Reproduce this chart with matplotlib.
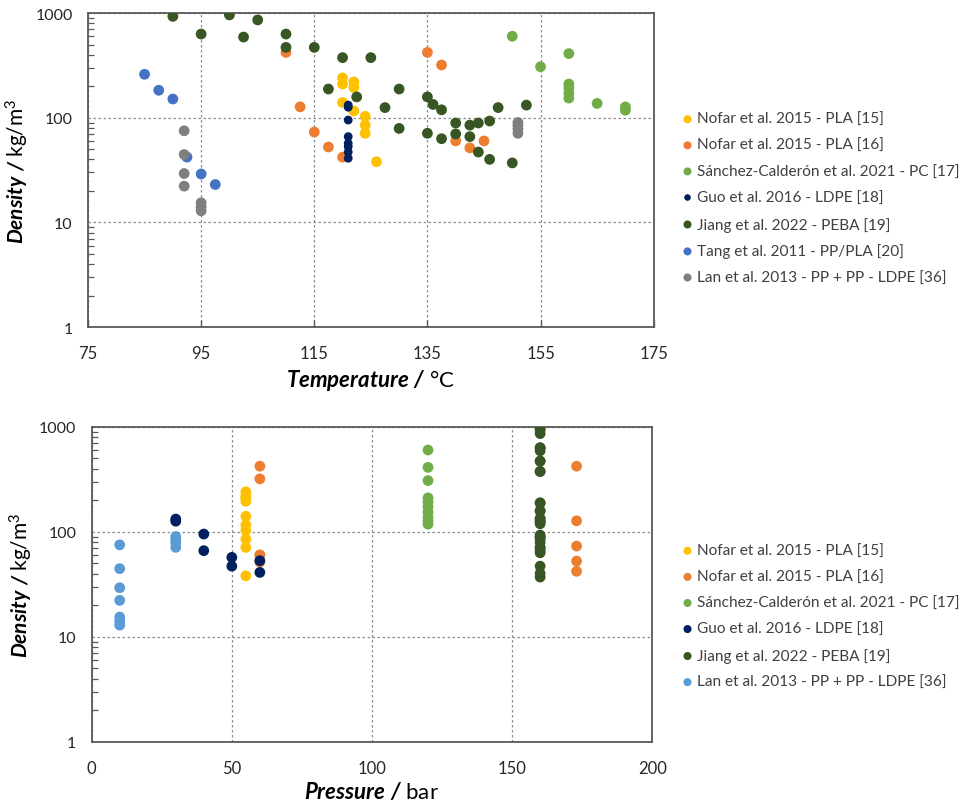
import matplotlib

matplotlib.use("Agg")
import matplotlib.pyplot as plt
from matplotlib.ticker import FixedLocator, LogLocator, NullFormatter, FuncFormatter

# ---- data ----
NOFAR15_T = [120, 120, 122, 122, 120, 122, 124, 124, 124, 126]
NOFAR15_P = [55, 55, 55, 55, 55, 55, 55, 55, 55, 55]
NOFAR15_D = [240, 210, 220, 195, 140, 116, 103, 85, 71, 38]

NOFAR16_T = [110, 112.5, 115, 117.5, 120, 135, 137.5, 140, 142.5, 145]
NOFAR16_P = [173, 173, 173, 173, 173, 60, 60, 60, 60, 60]
NOFAR16_D = [421, 127, 73, 52.5, 42, 421, 319, 60, 51.5, 60]

SANCHEZ_T = [150, 155, 160, 160, 160, 160, 160, 165, 170, 170]
SANCHEZ_P = [120, 120, 120, 120, 120, 120, 120, 120, 120, 120]
SANCHEZ_D = [600, 307, 410, 210, 192, 172, 154, 137, 127, 118]

GUO_T = [121, 121, 121, 121, 121, 121, 121, 121]
GUO_P = [30, 30, 40, 40, 50, 50, 60, 60]
GUO_D = [132, 126, 95, 66, 57, 47, 53, 41]

JIANG_T = [90, 95, 100, 102.5, 105, 110, 110, 115, 120, 125, 117.5, 122.5, 130, 127.5,
           130, 135, 136, 137.5, 135, 137.5, 140, 140, 142.5, 142.5, 144, 146, 147.5,
           152.5, 144, 146, 150]
JIANG_D = [930, 630, 960, 590, 860, 630, 470, 470, 375, 375, 188, 158, 188, 125,
           79, 158, 134, 119, 71, 63, 89, 70, 85, 66, 89, 93, 125,
           132, 47, 40, 37]
JIANG_P = [160] * len(JIANG_D)

TANG_T = [85, 87.5, 90, 92.5, 95, 97.5]
TANG_D = [260, 183, 151, 42, 29, 23]

LAN_T = [92, 92, 92, 92, 95, 95, 95, 151, 151, 151, 151]
LAN_P = [10, 10, 10, 10, 10, 10, 10, 30, 30, 30, 30]
LAN_D = [75, 44.5, 29.3, 22.2, 15.4, 14.1, 12.9, 90, 84, 78, 71]

LABELS = {
    "nofar15": "Nofar et al. 2015 - PLA [15]",
    "nofar16": "Nofar et al. 2015 - PLA [16]",
    "sanchez": "Sánchez-Calderón et al. 2021 - PC [17]",
    "guo": "Guo et al. 2016 - LDPE [18]",
    "jiang": "Jiang et al. 2022 - PEBA [19]",
    "tang": "Tang et al. 2011 - PP/PLA [20]",
    "lan": "Lan et al. 2013 - PP + PP - LDPE [36]",
}

COLORS = {
    "nofar15": "#FFC000",
    "nofar16": "#ED7D31",
    "sanchez": "#70AD47",
    "guo": "#002060",
    "jiang": "#375623",
    "tang": "#4472C4",
    "lan_top": "#7F7F7F",
    "lan_bottom": "#5B9BD5",
}

Y_TICKS = [1, 10, 100, 1000]

plt.rcParams.update(
    {
        "font.family": ["Lato", "DejaVu Sans"],
        "mathtext.fontset": "custom",
        "mathtext.rm": "Lato",
        "mathtext.it": "Lato:italic",
        "mathtext.bf": "Lato:bold",
        "mathtext.bfit": "Lato:italic:bold",
        "font.size": 11,
    }
)

SPINE = "#595959"
TEXT = "#262626"
SIZE = 60


def style_axes(ax, xlim, xticks, xticklen, xpad):
    ax.set_yscale("log")
    ax.set_ylim(1, 1000)
    ax.set_xlim(*xlim)
    ax.xaxis.set_major_locator(FixedLocator(xticks))
    ax.yaxis.set_major_locator(FixedLocator(Y_TICKS))
    ax.yaxis.set_minor_locator(LogLocator(base=10, subs=range(2, 10)))
    ax.yaxis.set_major_formatter(FuncFormatter(lambda v, _: f"{v:g}"))
    ax.yaxis.set_minor_formatter(NullFormatter())
    ax.grid(True, which="major", linestyle=(0, (2, 2)), color="#8C8C8C", linewidth=0.9)
    ax.set_axisbelow(True)
    for s in ax.spines.values():
        s.set_color(SPINE)
        s.set_linewidth(1.3)
    ax.tick_params(axis="y", which="minor", direction="in", length=4, width=0.9, color=SPINE)
    ax.tick_params(axis="y", which="major", direction="in", length=0, pad=11,
                   labelsize=11.5, labelcolor=TEXT)
    ax.tick_params(axis="x", which="major", direction="in", length=xticklen, width=1.0,
                   color=SPINE, pad=xpad, labelsize=12, labelcolor=TEXT)
    ax.set_ylabel(r"$\mathbfit{Density\ /}$ kg/m$^3$", fontsize=15, color="black", labelpad=3)


fig = plt.figure(figsize=(9.67, 8.04), dpi=100)
fig.set_facecolor("white")

ax1 = fig.add_axes([0.091, 0.592, 0.585, 0.3905])
ax2 = fig.add_axes([0.0948, 0.0762, 0.5797, 0.3918])

# top: density vs temperature
top_series = [
    ("nofar15", NOFAR15_T, NOFAR15_D, COLORS["nofar15"], SIZE),
    ("nofar16", NOFAR16_T, NOFAR16_D, COLORS["nofar16"], SIZE),
    ("sanchez", SANCHEZ_T, SANCHEZ_D, COLORS["sanchez"], SIZE),
    ("guo", GUO_T, GUO_D, COLORS["guo"], 40),
    ("jiang", JIANG_T, JIANG_D, COLORS["jiang"], SIZE),
    ("tang", TANG_T, TANG_D, COLORS["tang"], SIZE),
    ("lan", LAN_T, LAN_D, COLORS["lan_top"], SIZE),
]
for key, xs, ys, color, s in top_series:
    ax1.scatter(xs, ys, s=s, c=color, edgecolors="none", label=LABELS[key], zorder=3)
style_axes(ax1, (75, 175), list(range(75, 176, 20)), 5, 13)
ax1.set_xlabel(r"$\mathbfit{Temperature\ /}$ °C", fontsize=16, color="black", labelpad=4)

# bottom: density vs pressure
bottom_series = [
    ("nofar15", NOFAR15_P, NOFAR15_D, COLORS["nofar15"], SIZE),
    ("nofar16", NOFAR16_P, NOFAR16_D, COLORS["nofar16"], SIZE),
    ("sanchez", SANCHEZ_P, SANCHEZ_D, COLORS["sanchez"], SIZE),
    ("guo", GUO_P, GUO_D, COLORS["guo"], SIZE),
    ("jiang", JIANG_P, JIANG_D, COLORS["jiang"], SIZE),
    ("lan", LAN_P, LAN_D, COLORS["lan_bottom"], SIZE),
]
for key, xs, ys, color, s in bottom_series:
    ax2.scatter(xs, ys, s=s, c=color, edgecolors="none", label=LABELS[key], zorder=3)
style_axes(ax2, (0, 200), list(range(0, 201, 50)), 0, 13)
ax2.set_xlabel(r"$\mathbfit{Pressure\ /}$ bar", fontsize=16, color="black", labelpad=3)

legend_kw = dict(
    loc="center left",
    frameon=False,
    fontsize=11.1,
    labelcolor="#404040",
    handletextpad=0.1,
    handlelength=1.0,
    labelspacing=0.78,
    borderpad=0,
    borderaxespad=0,
    markerscale=0.75,
    scatterpoints=1,
)
fig.legend(*ax1.get_legend_handles_labels(), bbox_to_anchor=(0.703, 0.752), **legend_kw)
fig.legend(*ax2.get_legend_handles_labels(), bbox_to_anchor=(0.703, 0.232), **legend_kw)

fig.savefig("out.png", dpi=100, facecolor="white")
